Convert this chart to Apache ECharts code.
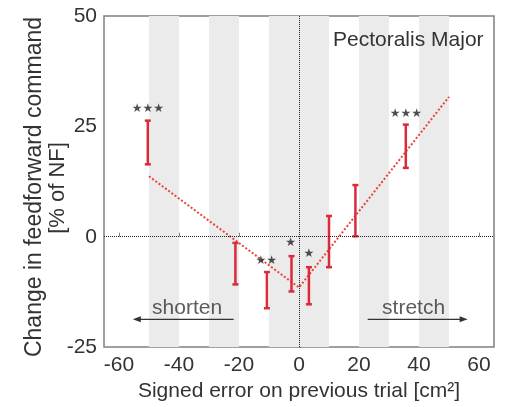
<!DOCTYPE html>
<html>
<head>
<meta charset="utf-8">
<script src="https://cdn.jsdelivr.net/npm/echarts@6/dist/echarts.min.js"></script>
<style>html,body{margin:0;padding:0;background:#fff;}#c{width:506px;height:407px;}</style>
</head>
<body>
<div id="c"></div>
<script>
// ---- data ----
var xTicks = [-60, -40, -20, 0, 20, 40, 60];
var yTicks = [-25, 0, 25, 50];
var bands = [[-50, -40], [-30, -20], [-10, 10], [20, 30], [40, 50]];
// error bars: [x, low, high]
var errX    = [-50.4, -21.2, -10.7, -2.5, 3.3, 10.0, 18.8, 35.6];
var errLow  = [16.4, -10.8, -16.2, -12.4, -15.3, -6.9, 0.1, 15.6];
var errHigh = [26.3, -1.4, -8.0, -4.4, -6.9, 4.7, 11.7, 25.4];
// fitted V line
var fitX = [-50, 0, 50];
var fitY = [13.7, -11.5, 31.7];
// significance marks
var starX = [-50.4, -10.9, -2.8, 3.3, 35.6];
var starY = [28.9, -5.5, -1.4, -3.9, 27.8];
var starText = ['\u2605\u2605\u2605', '\u2605\u2605', '\u2605', '\u2605', '\u2605\u2605\u2605'];
// direction arrows: [tailX, headX, y]
var arrowTail = [-21.8, 22.9];
var arrowHead = [-55.4, 56.2];
var arrowY = [-18.7, -18.7];
var arrowText = ['shorten', 'stretch'];
var arrowTextX = [-37.3, 38.2];
var arrowTextY = [-16.3, -16.3];

var FONT = 'Liberation Sans, Arial, sans-serif';
var RED = '#d92b3a';

var errData = errX.map(function (x, i) { return [x, errLow[i], errHigh[i]]; });
var fitData = fitX.map(function (x, i) { return [x, fitY[i]]; });
var starData = starX.map(function (x, i) { return [x, starY[i], starText[i]]; });
var arrowData = arrowTail.map(function (t, i) { return [t, arrowHead[i], arrowY[i]]; });
var arrowLabelData = arrowText.map(function (t, i) { return [arrowTextX[i], arrowTextY[i], t]; });
var bandData = bands.map(function (b) { return [{ xAxis: b[0] }, { xAxis: b[1] }]; });

var chart = echarts.init(document.getElementById('c'), null, { renderer: 'canvas' });
chart.setOption({
  animation: false,
  backgroundColor: '#fff',
  grid: { left: 104, top: 16, right: 12, bottom: 57, show: true, borderColor: '#808080', borderWidth: 1.5, backgroundColor: 'transparent' },
  xAxis: {
    type: 'value', min: -65, max: 65,
    name: 'Signed error on previous trial [cm\u00b2]',
    nameLocation: 'middle', nameGap: 33,
    nameTextStyle: { fontFamily: FONT, fontSize: 21, color: '#333' },
    axisLine: { show: false },
    axisTick: { show: true, inside: true, length: 4, customValues: xTicks, lineStyle: { color: '#808080' } },
    axisLabel: { customValues: xTicks, fontFamily: FONT, fontSize: 21, color: '#333', margin: 8 },
    splitLine: { show: false }
  },
  yAxis: {
    type: 'value', min: -25, max: 50, interval: 25,
    axisLine: { show: false },
    axisTick: { show: true, inside: true, length: 3, lineStyle: { color: '#808080' } },
    axisLabel: { fontFamily: FONT, fontSize: 21, color: '#333', margin: 7 },
    splitLine: { show: false }
  },
  graphic: [
    { type: 'text', left: 333, top: 30, z: 100, style: { text: 'Pectoralis Major', font: '21px ' + FONT, fill: '#333' } },
    { type: 'text', x: 35, y: 187, rotation: Math.PI / 2, z: 100, style: { text: 'Change in feedforward command', font: '23px ' + FONT, fill: '#333', align: 'center', verticalAlign: 'middle' } },
    { type: 'text', x: 58, y: 188, rotation: Math.PI / 2, z: 100, style: { text: '[% of NF]', font: '22px ' + FONT, fill: '#333', align: 'center', verticalAlign: 'middle' } }
  ],
  series: [
    {
      type: 'line', data: [], silent: true,
      markArea: { silent: true, itemStyle: { color: '#ebebeb' }, data: bandData },
      markLine: {
        silent: true, symbol: 'none', label: { show: false },
        lineStyle: { color: '#222', type: 'dotted', width: 1 },
        data: [{ yAxis: 0 }, { xAxis: 0 }]
      }
    },
    {
      type: 'line', data: fitData, symbol: 'none', silent: true, z: 3,
      lineStyle: { color: '#e8453c', width: 2, type: [2, 2] }
    },
    {
      type: 'custom', data: errData, z: 4, silent: true,
      renderItem: function (params, api) {
        var x = api.value(0);
        var p1 = api.coord([x, api.value(1)]);
        var p2 = api.coord([x, api.value(2)]);
        var w = 3;
        var st = { stroke: RED, lineWidth: 2.5 };
        return {
          type: 'group', children: [
            { type: 'line', shape: { x1: p1[0], y1: p1[1], x2: p2[0], y2: p2[1] }, style: st },
            { type: 'line', shape: { x1: p1[0] - w, y1: p1[1], x2: p1[0] + w, y2: p1[1] }, style: st },
            { type: 'line', shape: { x1: p2[0] - w, y1: p2[1], x2: p2[0] + w, y2: p2[1] }, style: st }
          ]
        };
      }
    },
    {
      type: 'custom', data: arrowData, z: 4, silent: true,
      renderItem: function (params, api) {
        var t = api.coord([api.value(0), api.value(2)]);
        var h = api.coord([api.value(1), api.value(2)]);
        var d = h[0] > t[0] ? 1 : -1;
        return {
          type: 'group', children: [
            { type: 'line', shape: { x1: t[0], y1: t[1], x2: h[0] - d * 4, y2: h[1] }, style: { stroke: '#333', lineWidth: 1.3 } },
            { type: 'polygon', shape: { points: [[h[0], h[1]], [h[0] - d * 8, h[1] - 3], [h[0] - d * 8, h[1] + 3]] }, style: { fill: '#333' } }
          ]
        };
      }
    },
    {
      type: 'scatter', data: starData, symbolSize: 0, z: 5, silent: true,
      label: { show: true, position: 'inside', formatter: function (p) { return p.value[2]; }, fontFamily: 'DejaVu Sans', fontSize: 12, color: '#222' }
    },
    {
      type: 'scatter', data: arrowLabelData, symbolSize: 0, z: 5, silent: true,
      label: { show: true, position: 'inside', formatter: function (p) { return p.value[2]; }, fontFamily: FONT, fontSize: 21, color: '#333' }
    }
  ]
});
</script>
</body>
</html>
